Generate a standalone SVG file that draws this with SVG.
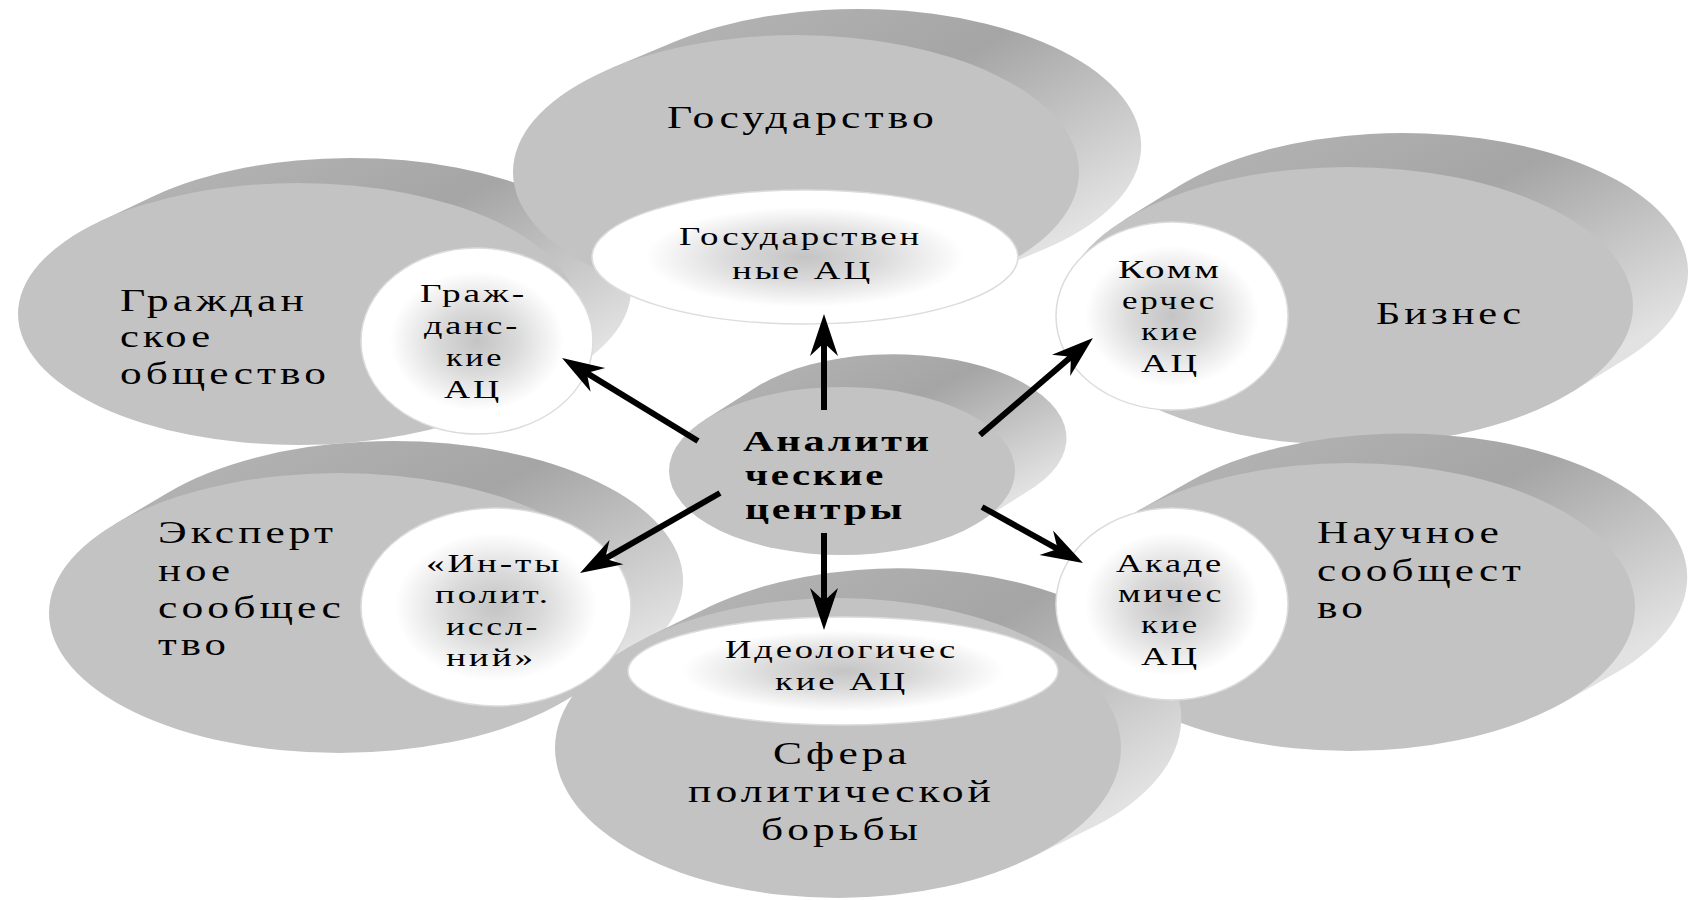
<svg xmlns="http://www.w3.org/2000/svg" width="1689" height="900" viewBox="0 0 1689 900">
<defs>
<linearGradient id="band" x1="0.15" y1="0" x2="0.95" y2="0.75">
<stop offset="0" stop-color="#b4b4b4"/>
<stop offset="0.45" stop-color="#a5a5a5"/>
<stop offset="1" stop-color="#e2e2e2"/>
</linearGradient>
<radialGradient id="glow" cx="0.5" cy="0.5" r="0.5">
<stop offset="0" stop-color="#c4c4c4"/>
<stop offset="0.35" stop-color="#dadada"/>
<stop offset="0.75" stop-color="#ffffff"/>
<stop offset="1" stop-color="#ffffff"/>
</radialGradient>
<marker id="head" markerUnits="userSpaceOnUse" markerWidth="46" markerHeight="30" viewBox="-44 -15 46 30" refX="-20" refY="0" orient="auto" overflow="visible">
<path d="M0,0 L-42,-14 L-29,0 L-42,14 Z" fill="#000"/>
</marker>
<style>
.band{fill:url(#band)}
.face{fill:#c3c3c3}
.inner{fill:url(#glow);stroke:#dcdcdc;stroke-width:1.5}
.lbl{font-family:"Liberation Serif","DejaVu Serif",serif;font-size:32px;letter-spacing:3px;fill:#000}
.sm{font-family:"Liberation Serif","DejaVu Serif",serif;font-size:26px;letter-spacing:2px;fill:#000}
.bd{font-family:"Liberation Serif","DejaVu Serif",serif;font-size:30px;letter-spacing:2px;font-weight:bold;fill:#000}
.arr{stroke:#000;stroke-width:6;fill:none;marker-end:url(#head)}
</style>
</defs>
<rect width="1689" height="900" fill="#fff"/>

<g id="node-grazhdanskoe">
<path class="band" d="M98.9,221.9 L153.9,195.9 A280,131 0 0 1 552.1,380.1 L497.1,406.1 Z"/>
<ellipse class="face" cx="298" cy="314" rx="280" ry="131"/>
<text class="lbl" x="120" y="311" textLength="188" lengthAdjust="spacingAndGlyphs">Граждан</text>
<text class="lbl" x="120" y="347" textLength="94" lengthAdjust="spacingAndGlyphs">ское</text>
<text class="lbl" x="120" y="384" textLength="210" lengthAdjust="spacingAndGlyphs">общество</text>
</g>

<g id="node-biznes">
<path class="band" d="M1124.3,219.8 L1179.3,185.8 A285,139 0 0 1 1626.7,358.2 L1571.7,392.2 Z"/>
<ellipse class="face" cx="1348" cy="306" rx="285" ry="139"/>
<text class="lbl" x="1376" y="324" textLength="149" lengthAdjust="spacingAndGlyphs">Бизнес</text>
</g>

<g id="node-gosudarstvo">
<path class="band" d="M610.6,68.4 L672.6,42.4 A283,137 0 0 1 1043.4,249.6 L981.4,275.6 Z"/>
<ellipse class="face" cx="796" cy="172" rx="283" ry="137"/>
<text class="lbl" x="667" y="128" textLength="271" lengthAdjust="spacingAndGlyphs">Государство</text>
</g>

<g id="node-ekspertnoe">
<path class="band" d="M114.2,524.5 L168.2,492.5 A290,140 0 0 1 617.8,669.5 L563.8,701.5 Z"/>
<ellipse class="face" cx="339" cy="613" rx="290" ry="140"/>
<text class="lbl" x="158" y="543" textLength="179" lengthAdjust="spacingAndGlyphs">Эксперт</text>
<text class="lbl" x="158" y="581" textLength="76" lengthAdjust="spacingAndGlyphs">ное</text>
<text class="lbl" x="158" y="618" textLength="187" lengthAdjust="spacingAndGlyphs">сообщес</text>
<text class="lbl" x="158" y="655" textLength="72" lengthAdjust="spacingAndGlyphs">тво</text>
</g>

<g id="node-nauchnoe">
<path class="band" d="M1137.4,511.1 L1190.4,481.1 A285,144 0 0 1 1615.6,672.9 L1562.6,702.9 Z"/>
<ellipse class="face" cx="1350" cy="607" rx="285" ry="144"/>
<text class="lbl" x="1317" y="543" textLength="186" lengthAdjust="spacingAndGlyphs">Научное</text>
<text class="lbl" x="1317" y="581" textLength="208" lengthAdjust="spacingAndGlyphs">сообщест</text>
<text class="lbl" x="1317" y="618" textLength="50" lengthAdjust="spacingAndGlyphs">во</text>
</g>

<g id="node-sfera">
<path class="band" d="M645.3,638.2 L710.3,606.2 A283,150 0 0 1 1095.7,825.8 L1030.7,857.8 Z"/>
<ellipse class="face" cx="838" cy="748" rx="283" ry="150"/>
<text class="lbl" x="773" y="764" textLength="138" lengthAdjust="spacingAndGlyphs">Сфера</text>
<text class="lbl" x="688" y="802" textLength="307" lengthAdjust="spacingAndGlyphs">политической</text>
<text class="lbl" x="761" y="840" textLength="161" lengthAdjust="spacingAndGlyphs">борьбы</text>
</g>

<g id="node-center">
<path class="band" d="M704.5,420.1 L759.5,385.1 A173,84 0 0 1 1034.5,486.9 L979.5,521.9 Z"/>
<ellipse class="face" cx="842" cy="471" rx="173" ry="84"/>
<text class="bd" x="743" y="451" textLength="189" lengthAdjust="spacingAndGlyphs">Аналити</text>
<text class="bd" x="745" y="485" textLength="141" lengthAdjust="spacingAndGlyphs">ческие</text>
<text class="bd" x="745" y="519" textLength="160" lengthAdjust="spacingAndGlyphs">центры</text>
</g>

<g id="node-gos-ac">
<ellipse class="inner" cx="805" cy="257" rx="213" ry="67"/>
<text class="sm" x="679" y="245" textLength="243" lengthAdjust="spacingAndGlyphs">Государствен</text>
<text class="sm" x="732" y="279" textLength="141" lengthAdjust="spacingAndGlyphs">ные АЦ</text>
</g>

<g id="node-grazh-ac">
<ellipse class="inner" cx="477" cy="341" rx="116" ry="93"/>
<text class="sm" x="420" y="302" textLength="107" lengthAdjust="spacingAndGlyphs">Граж-</text>
<text class="sm" x="424" y="334" textLength="96" lengthAdjust="spacingAndGlyphs">данс-</text>
<text class="sm" x="446" y="366" textLength="58" lengthAdjust="spacingAndGlyphs">кие</text>
<text class="sm" x="444" y="398" textLength="58" lengthAdjust="spacingAndGlyphs">АЦ</text>
</g>

<g id="node-komm-ac">
<ellipse class="inner" cx="1172" cy="316" rx="116" ry="94"/>
<text class="sm" x="1118" y="278" textLength="104" lengthAdjust="spacingAndGlyphs">Комм</text>
<text class="sm" x="1122" y="309" textLength="95" lengthAdjust="spacingAndGlyphs">ерчес</text>
<text class="sm" x="1141" y="340" textLength="59" lengthAdjust="spacingAndGlyphs">кие</text>
<text class="sm" x="1141" y="372" textLength="59" lengthAdjust="spacingAndGlyphs">АЦ</text>
</g>

<g id="node-polit-ac">
<ellipse class="inner" cx="496" cy="607" rx="135" ry="99"/>
<text class="sm" x="426" y="572" textLength="136" lengthAdjust="spacingAndGlyphs">«Ин-ты</text>
<text class="sm" x="435" y="603" textLength="116" lengthAdjust="spacingAndGlyphs">полит.</text>
<text class="sm" x="446" y="635" textLength="94" lengthAdjust="spacingAndGlyphs">иссл-</text>
<text class="sm" x="446" y="666" textLength="90" lengthAdjust="spacingAndGlyphs">ний»</text>
</g>

<g id="node-akad-ac">
<ellipse class="inner" cx="1172" cy="604" rx="116" ry="96"/>
<text class="sm" x="1116" y="572" textLength="108" lengthAdjust="spacingAndGlyphs">Акаде</text>
<text class="sm" x="1118" y="602" textLength="106" lengthAdjust="spacingAndGlyphs">мичес</text>
<text class="sm" x="1141" y="633" textLength="59" lengthAdjust="spacingAndGlyphs">кие</text>
<text class="sm" x="1141" y="665" textLength="59" lengthAdjust="spacingAndGlyphs">АЦ</text>
</g>

<g id="node-ideol-ac">
<ellipse class="inner" cx="843" cy="671" rx="215" ry="54"/>
<text class="sm" x="725" y="658" textLength="233" lengthAdjust="spacingAndGlyphs">Идеологичес</text>
<text class="sm" x="775" y="690" textLength="133" lengthAdjust="spacingAndGlyphs">кие АЦ</text>
</g>

<g id="connectors">
<path class="arr" d="M824,410 L824,334"/>
<path class="arr" d="M824,533 L824,610"/>
<path class="arr" d="M698,441 L579.1,368.4"/>
<path class="arr" d="M980,435 L1077.8,351"/>
<path class="arr" d="M720,493 L597.4,563.1"/>
<path class="arr" d="M982,507 L1065.5,553.3"/>
</g>
</svg>
